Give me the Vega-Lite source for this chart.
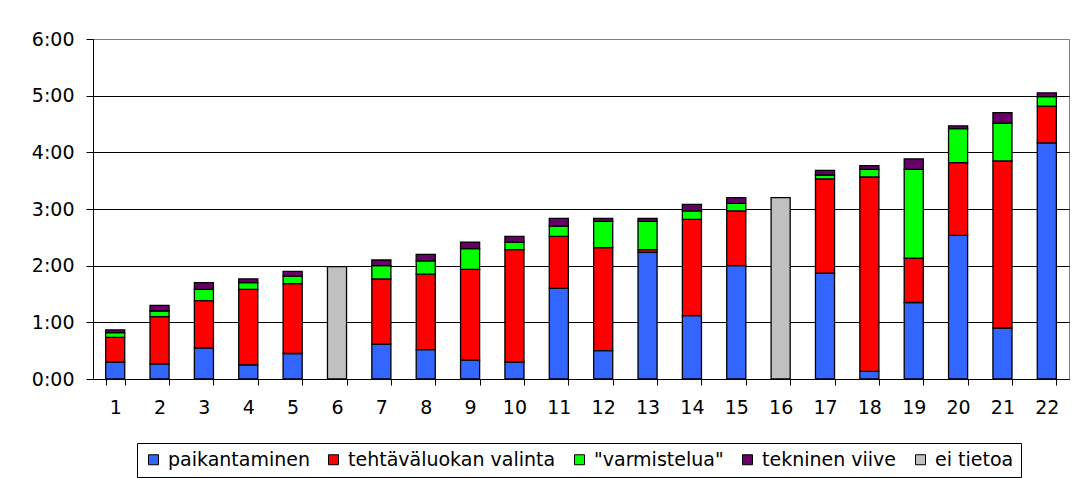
{
  "$schema": "https://vega.github.io/schema/vega-lite/v6.json",
  "autosize": {"type": "none"},
  "width": 976,
  "height": 340,
  "padding": {"left": 93, "top": 39, "right": 7, "bottom": 99},
  "background": "white",
  "config": {
    "font": "DejaVu Sans",
    "view": {"stroke": "#808080", "strokeWidth": 1},
    "axis": {"labelFont": "DejaVu Sans", "labelColor": "#000", "labelFontSize": 19, "domainColor": "#000", "tickColor": "#000", "titleFontSize": 0}
  },
  "data": {"values": [
    {"n": 1, "kind": "paikantaminen", "s": 18},
    {"n": 1, "kind": "tehtäväluokan valinta", "s": 26},
    {"n": 1, "kind": "\"varmistelua\"", "s": 5},
    {"n": 1, "kind": "tekninen viive", "s": 3},
    {"n": 2, "kind": "paikantaminen", "s": 16},
    {"n": 2, "kind": "tehtäväluokan valinta", "s": 50},
    {"n": 2, "kind": "\"varmistelua\"", "s": 6},
    {"n": 2, "kind": "tekninen viive", "s": 6},
    {"n": 3, "kind": "paikantaminen", "s": 33},
    {"n": 3, "kind": "tehtäväluokan valinta", "s": 50},
    {"n": 3, "kind": "\"varmistelua\"", "s": 12},
    {"n": 3, "kind": "tekninen viive", "s": 7},
    {"n": 4, "kind": "paikantaminen", "s": 15},
    {"n": 4, "kind": "tehtäväluokan valinta", "s": 80},
    {"n": 4, "kind": "\"varmistelua\"", "s": 7},
    {"n": 4, "kind": "tekninen viive", "s": 4},
    {"n": 5, "kind": "paikantaminen", "s": 27},
    {"n": 5, "kind": "tehtäväluokan valinta", "s": 74},
    {"n": 5, "kind": "\"varmistelua\"", "s": 8},
    {"n": 5, "kind": "tekninen viive", "s": 5},
    {"n": 6, "kind": "ei tietoa", "s": 119},
    {"n": 7, "kind": "paikantaminen", "s": 37},
    {"n": 7, "kind": "tehtäväluokan valinta", "s": 69},
    {"n": 7, "kind": "\"varmistelua\"", "s": 14},
    {"n": 7, "kind": "tekninen viive", "s": 6},
    {"n": 8, "kind": "paikantaminen", "s": 31},
    {"n": 8, "kind": "tehtäväluokan valinta", "s": 80},
    {"n": 8, "kind": "\"varmistelua\"", "s": 14},
    {"n": 8, "kind": "tekninen viive", "s": 7},
    {"n": 9, "kind": "paikantaminen", "s": 20},
    {"n": 9, "kind": "tehtäväluokan valinta", "s": 96},
    {"n": 9, "kind": "\"varmistelua\"", "s": 22},
    {"n": 9, "kind": "tekninen viive", "s": 7},
    {"n": 10, "kind": "paikantaminen", "s": 18},
    {"n": 10, "kind": "tehtäväluokan valinta", "s": 119},
    {"n": 10, "kind": "\"varmistelua\"", "s": 8},
    {"n": 10, "kind": "tekninen viive", "s": 6},
    {"n": 11, "kind": "paikantaminen", "s": 96},
    {"n": 11, "kind": "tehtäväluokan valinta", "s": 55},
    {"n": 11, "kind": "\"varmistelua\"", "s": 11},
    {"n": 11, "kind": "tekninen viive", "s": 8},
    {"n": 12, "kind": "paikantaminen", "s": 30},
    {"n": 12, "kind": "tehtäväluokan valinta", "s": 109},
    {"n": 12, "kind": "\"varmistelua\"", "s": 28},
    {"n": 12, "kind": "tekninen viive", "s": 3},
    {"n": 13, "kind": "paikantaminen", "s": 134},
    {"n": 13, "kind": "tehtäväluokan valinta", "s": 3},
    {"n": 13, "kind": "\"varmistelua\"", "s": 30},
    {"n": 13, "kind": "tekninen viive", "s": 3},
    {"n": 14, "kind": "paikantaminen", "s": 67},
    {"n": 14, "kind": "tehtäväluokan valinta", "s": 102},
    {"n": 14, "kind": "\"varmistelua\"", "s": 9},
    {"n": 14, "kind": "tekninen viive", "s": 7},
    {"n": 15, "kind": "paikantaminen", "s": 120},
    {"n": 15, "kind": "tehtäväluokan valinta", "s": 58},
    {"n": 15, "kind": "\"varmistelua\"", "s": 8},
    {"n": 15, "kind": "tekninen viive", "s": 6},
    {"n": 16, "kind": "ei tietoa", "s": 192},
    {"n": 17, "kind": "paikantaminen", "s": 112},
    {"n": 17, "kind": "tehtäväluokan valinta", "s": 100},
    {"n": 17, "kind": "\"varmistelua\"", "s": 4},
    {"n": 17, "kind": "tekninen viive", "s": 5},
    {"n": 18, "kind": "paikantaminen", "s": 8},
    {"n": 18, "kind": "tehtäväluokan valinta", "s": 206},
    {"n": 18, "kind": "\"varmistelua\"", "s": 8},
    {"n": 18, "kind": "tekninen viive", "s": 4},
    {"n": 19, "kind": "paikantaminen", "s": 81},
    {"n": 19, "kind": "tehtäväluokan valinta", "s": 47},
    {"n": 19, "kind": "\"varmistelua\"", "s": 94},
    {"n": 19, "kind": "tekninen viive", "s": 11},
    {"n": 20, "kind": "paikantaminen", "s": 152},
    {"n": 20, "kind": "tehtäväluokan valinta", "s": 77},
    {"n": 20, "kind": "\"varmistelua\"", "s": 36},
    {"n": 20, "kind": "tekninen viive", "s": 3},
    {"n": 21, "kind": "paikantaminen", "s": 54},
    {"n": 21, "kind": "tehtäväluokan valinta", "s": 177},
    {"n": 21, "kind": "\"varmistelua\"", "s": 40},
    {"n": 21, "kind": "tekninen viive", "s": 11},
    {"n": 22, "kind": "paikantaminen", "s": 250},
    {"n": 22, "kind": "tehtäväluokan valinta", "s": 39},
    {"n": 22, "kind": "\"varmistelua\"", "s": 10},
    {"n": 22, "kind": "tekninen viive", "s": 4}
  ]},
  "transform": [
    {"calculate": "indexof(['paikantaminen','tehtäväluokan valinta','\"varmistelua\"','tekninen viive','ei tietoa'], datum.kind)", "as": "ord"}
  ],
  "mark": {"type": "bar", "stroke": "#000", "strokeWidth": 1.3},
  "encoding": {
    "x": {
      "field": "n", "type": "ordinal", "title": null,
      "scale": {"paddingInner": 0.57, "paddingOuter": 0.285},
      "axis": {"labelAngle": 0, "tickBand": "extent", "tickSize": 6, "labelPadding": 13, "domainWidth": 1, "grid": false}
    },
    "y": {
      "field": "s", "type": "quantitative", "stack": "zero", "title": null,
      "scale": {"domain": [0, 360], "nice": false},
      "axis": {
        "values": [0, 60, 120, 180, 240, 300, 360],
        "labelExpr": "floor(datum.value/60) + ':00'",
        "tickSize": 7, "labelPadding": 12, "grid": true,
        "gridColor": {"condition": {"test": "datum.value === 360", "value": "#808080"}, "value": "#000"},
        "gridWidth": 1
      }
    },
    "color": {
      "field": "kind", "type": "nominal",
      "scale": {
        "domain": ["paikantaminen", "tehtäväluokan valinta", "\"varmistelua\"", "tekninen viive", "ei tietoa"],
        "range": ["#3366FF", "#FF0000", "#00FF00", "#660066", "#C0C0C0"]
      },
      "legend": {
        "title": null, "orient": "none", "direction": "horizontal", "columns": 5,
        "legendX": 44, "legendY": 404,
        "padding": 7, "strokeColor": "#000", "fillColor": "#fff",
        "symbolType": "square", "symbolSize": 100, "symbolStrokeColor": "#000", "symbolStrokeWidth": 1, "symbolOpacity": 1,
        "labelFont": "DejaVu Sans", "labelFontSize": 19, "labelColor": "#000", "labelOffset": 5, "labelLimit": 400,
        "columnPadding": 14
      }
    },
    "order": {"field": "ord", "type": "quantitative"}
  }
}
